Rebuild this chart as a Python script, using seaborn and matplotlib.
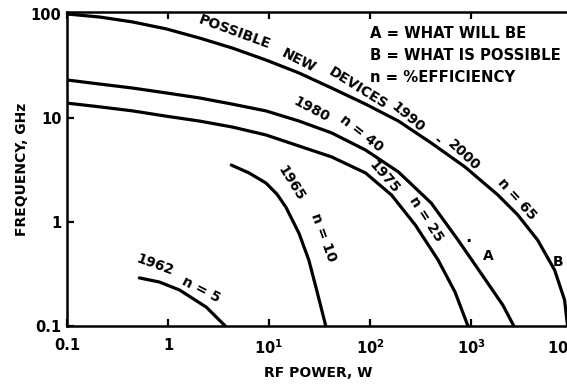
import numpy as np
import pandas as pd
import matplotlib
matplotlib.use("Agg")
import matplotlib.pyplot as plt
import matplotlib.transforms as mtransforms
import seaborn as sns

# ---------------- data ----------------
# Possible new devices 1990-2000, n = 65  (curve "B")
p_b = [0.1, 0.211, 0.447, 0.966, 2.04, 4.32, 9.33, 19.8, 41.8, 90.4, 191, 404,
       873, 1845, 2904, 4571, 6730, 8440, 9040]
f_b = [100, 93.5, 83.8, 71.8, 58.8, 47.1, 36.1, 27.1, 19.4, 13.6, 9.35, 5.75,
       3.38, 1.82, 1.17, 0.67, 0.345, 0.178, 0.1]
# 1980, n = 40  (curve "A")
p_1980 = [0.1, 0.211, 0.447, 0.966, 2.04, 4.32, 9.33, 19.8, 41.8, 90.4, 191, 404,
          745, 1374, 2065, 2656]
f_1980 = [23.2, 21.2, 19.4, 17.4, 15.6, 13.6, 11.7, 9.35, 7.18, 4.92, 3.03, 1.52,
          0.67, 0.283, 0.159, 0.1]
# 1975, n = 25
p_1975 = [0.1, 0.211, 0.447, 0.966, 2.04, 4.32, 9.33, 19.8, 41.8, 90.4, 163, 281,
          473, 695, 933]
f_1975 = [13.9, 12.8, 11.7, 10.4, 9.35, 8.19, 6.87, 5.38, 4.22, 2.96, 1.82, 0.935,
          0.43, 0.212, 0.1]
# 1965, n = 10
p_1965 = [4.23, 6.35, 9.33, 12.0, 14.7, 19.8, 24.8, 29.7, 36.5]
f_1965 = [3.53, 2.96, 2.37, 1.85, 1.39, 0.78, 0.43, 0.22, 0.1]
# 1962, n = 5
p_1962 = [0.52, 0.82, 1.30, 2.39, 3.69]
f_1962 = [0.29, 0.265, 0.222, 0.152, 0.1]

x_ticks = [0.1, 1, 10, 100, 1000, 10000]
x_tick_labels = ["0.1", "1", "$10^1$", "$10^2$", "$10^3$", "$10^4$"]
y_ticks = [0.1, 1, 10, 100]
y_tick_labels = ["0.1", "1", "10", "100"]

legend_lines = ["A = WHAT WILL BE", "B = WHAT IS POSSIBLE", "n = %EFFICIENCY"]

series = {
    "1990-2000": (p_b, f_b),
    "1980": (p_1980, f_1980),
    "1975": (p_1975, f_1975),
    "1965": (p_1965, f_1965),
    "1962": (p_1962, f_1962),
}
frames = []
for name, (p, f) in series.items():
    frames.append(pd.DataFrame({"power": p, "freq": f, "curve": name}))
df = pd.concat(frames, ignore_index=True)

# ---------------- style ----------------
sns.set_style("ticks")
plt.rcParams["font.family"] = ["DejaVu Sans"]
plt.rcParams["font.weight"] = "bold"
plt.rcParams["mathtext.default"] = "bf"
plt.rcParams["text.color"] = "black"
plt.rcParams["axes.labelcolor"] = "black"
plt.rcParams["xtick.color"] = "black"
plt.rcParams["ytick.color"] = "black"

W, H = 567, 385
fig = plt.figure(figsize=(W / 100, H / 100), dpi=100)
ax = fig.add_axes([67 / W, (H - 326) / H, (572 - 67) / W, (326 - 12) / H])
ax.set_xscale("log")
ax.set_yscale("log")

sns.lineplot(data=df, x="power", y="freq", hue="curve", units="curve",
             estimator=None, sort=False, legend=False,
             palette={k: "black" for k in series}, linewidth=2.3, ax=ax)

ax.set_xlim(0.1, 1e4)
ax.set_ylim(0.1, 104.5)
ax.set_xticks(x_ticks)
ax.set_xticklabels(x_tick_labels)
ax.set_yticks(y_ticks)
ax.set_yticklabels(y_tick_labels)
ax.minorticks_off()
ax.tick_params(axis="both", which="major", direction="in", length=5, width=1.6,
               labelsize=10.5, colors="black")
ax.tick_params(axis="x", pad=9, top=True)
ax.tick_params(axis="y", pad=4, right=False)
for lab in ax.get_xticklabels() + ax.get_yticklabels():
    lab.set_fontweight("bold")
# the last power label sits at the right edge of the picture
last = ax.get_xticklabels()[-1]
last.set_transform(last.get_transform() +
                   mtransforms.ScaledTranslation(-10 / 100, 0, fig.dpi_scale_trans))
for side in ["left", "bottom", "top", "right"]:
    ax.spines[side].set_linewidth(1.8)
    ax.spines[side].set_color("black")
ax.set_xlabel("")
ax.set_ylabel("")

fig.text(318 / W, 1 - 373 / H, "RF POWER, W", ha="center", va="center",
         fontsize=10, fontweight="bold", color="black")
fig.text(22 / W, 1 - 169 / H, "FREQUENCY, GHz", ha="center", va="center",
         rotation=90, fontsize=10, fontweight="bold", color="black")

# curve labels (pixel position in the picture, rotation)
def put(text, x, y, rot, size=10):
    fig.text(x / W, 1 - y / H, text, ha="center", va="center", rotation=rot,
             rotation_mode="anchor", fontsize=size, fontweight="bold",
             color="black")

put("POSSIBLE", 235, 32, -20)
put("NEW", 299, 61, -27)
put("DEVICES", 358, 88, -32)
put("1990", 408, 117, -40)
put("-", 437, 140, -40)
put("2000", 464, 155, -43)
put("n = 65", 517, 199, -48)
put("1980", 311, 110, -28)
put("n = 40", 361, 133, -38)
put("1975", 384, 177, -49)
put("n = 25", 426, 219, -57)
put("1965", 291, 183, -58)
put("n = 10", 323, 237, -70)
put("1962", 155, 265, -20)
put("n = 5", 201, 290, -27)
put("·", 468, 242, 0, 12)
put("A", 488, 256, 0)
put("B", 558, 262, 0)

for i, line in enumerate(legend_lines):
    fig.text(370 / W, 1 - (33 + 22.5 * i) / H, line, ha="left", va="center",
             fontsize=10.7, fontweight="bold", color="black")

fig.savefig("out.png", dpi=100)
